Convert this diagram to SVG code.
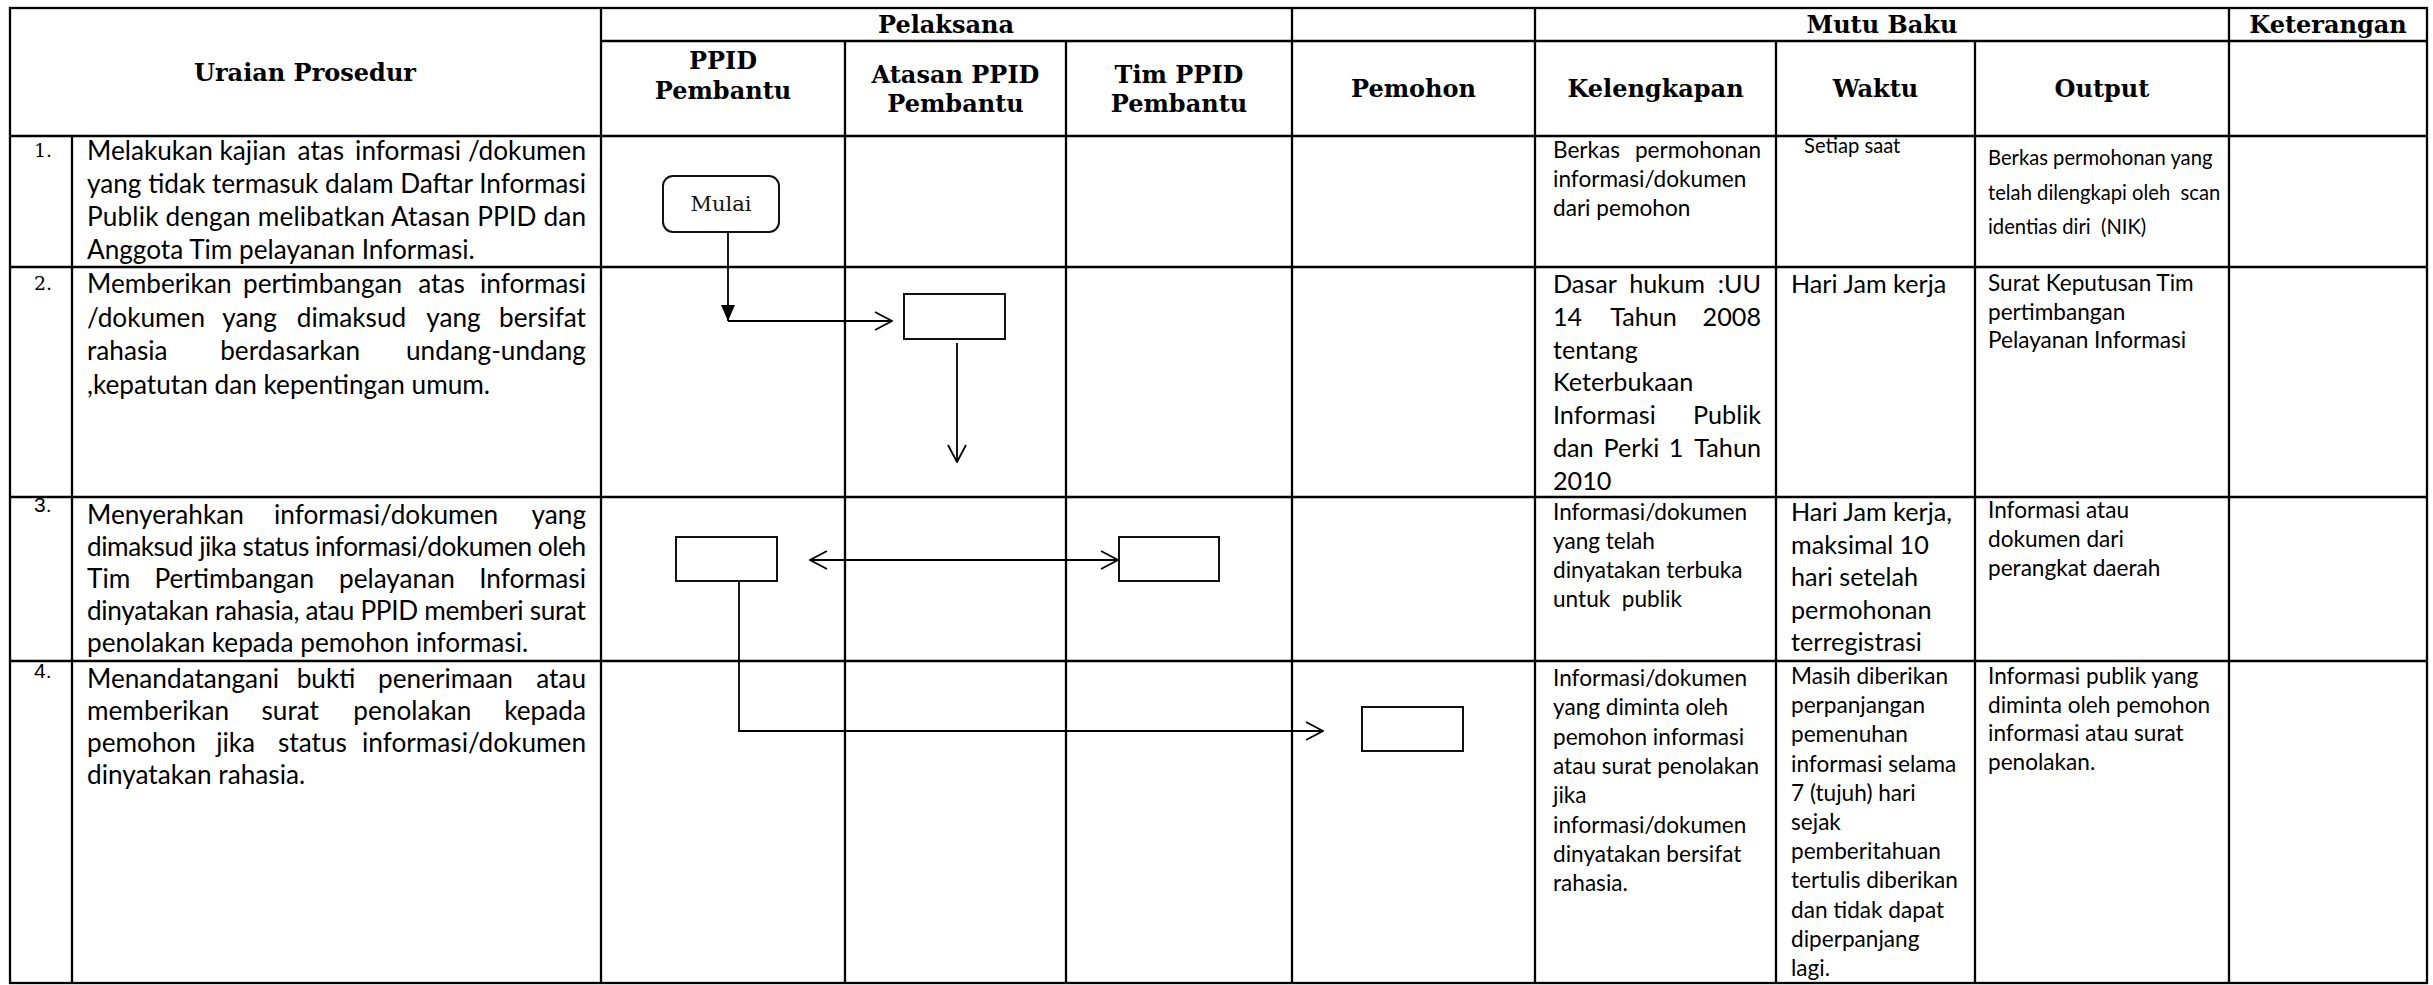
<svg xmlns="http://www.w3.org/2000/svg" width="2433" height="985" viewBox="0 0 2433 985">
<style>
.grid line, .grid rect {stroke:#000; stroke-width:2.3; fill:none}
.hd {font-family:"DejaVu Serif", serif; font-weight:bold; font-size:24px; fill:#000; text-anchor:middle}
.u {font-family:Lato, "Open Sans", sans-serif; font-size:26.2px; fill:#000}
.k {font-family:Lato, "Open Sans", sans-serif; font-size:22.6px; fill:#000}
.kl {font-family:Lato, "Open Sans", sans-serif; font-size:25.2px; fill:#000}
.ks {font-family:Lato, "Open Sans", sans-serif; font-size:20.2px; fill:#000}
.ko {font-family:Lato, "Open Sans", sans-serif; font-size:22.6px; fill:#000}
.m {text-anchor:middle}
.e {text-anchor:end}
.num {font-family:"DejaVu Serif", serif; font-size:19px; fill:#000}
.nums {font-family:"Liberation Sans", Arial, sans-serif; font-size:21px; fill:#000}
.shape {fill:#fff; stroke:#111; stroke-width:2}
.conn {fill:none; stroke:#000; stroke-width:1.8}
.lbl {font-family:"DejaVu Serif", serif; font-size:21px; fill:#111; text-anchor:middle}
</style>
<defs>
<marker id="open" viewBox="0 0 20 20" refX="19" refY="10" markerWidth="20" markerHeight="20" markerUnits="userSpaceOnUse" orient="auto-start-reverse">
<path d="M2,1 L19,10 L2,19" fill="none" stroke="#000" stroke-width="1.8"/>
</marker>
<marker id="filled" viewBox="0 0 16 16" refX="16" refY="8" markerWidth="16" markerHeight="16" markerUnits="userSpaceOnUse" orient="auto">
<path d="M0,1 L16,8 L0,15 Z" fill="#000"/>
</marker>
</defs>
<rect x="0" y="0" width="2433" height="985" fill="#fff"/>

<g id="table" class="grid">
<rect x="10" y="8" width="2417" height="975"/>
<line x1="601" y1="41" x2="2427" y2="41"/>
<line x1="10" y1="136" x2="2427" y2="136"/>
<line x1="10" y1="267" x2="2427" y2="267"/>
<line x1="10" y1="497" x2="2427" y2="497"/>
<line x1="10" y1="661" x2="2427" y2="661"/>
<line x1="72" y1="136" x2="72" y2="983"/>
<line x1="601" y1="8" x2="601" y2="983"/>
<line x1="845" y1="41" x2="845" y2="983"/>
<line x1="1066" y1="41" x2="1066" y2="983"/>
<line x1="1292" y1="8" x2="1292" y2="983"/>
<line x1="1535" y1="8" x2="1535" y2="983"/>
<line x1="1776" y1="41" x2="1776" y2="983"/>
<line x1="1975" y1="41" x2="1975" y2="983"/>
<line x1="2229" y1="8" x2="2229" y2="983"/>
</g>

<g id="header">
<text class="hd" x="305" y="81">Uraian Prosedur</text>
<text class="hd" x="946" y="33">Pelaksana</text>
<text class="hd" x="1882" y="33">Mutu Baku</text>
<text class="hd" x="2328" y="33">Keterangan</text>
<text class="hd" x="723" y="69">PPID</text>
<text class="hd" x="723" y="99">Pembantu</text>
<text class="hd" x="955.5" y="83">Atasan PPID</text>
<text class="hd" x="955.5" y="112">Pembantu</text>
<text class="hd" x="1179" y="83">Tim PPID</text>
<text class="hd" x="1179" y="112">Pembantu</text>
<text class="hd" x="1413.5" y="97">Pemohon</text>
<text class="hd" x="1655.5" y="97">Kelengkapan</text>
<text class="hd" x="1875.5" y="97">Waktu</text>
<text class="hd" x="2102" y="97">Output</text>
</g>

<g id="numbers">
<text class="num" x="34" y="157">1.</text>
<text class="num" x="34" y="290">2.</text>
<text class="nums" x="34" y="512">3.</text>
<text class="nums" x="34" y="678">4.</text>
</g>

<g id="uraian-1">
<text class="u" x="87" y="160">Melakukan</text>
<text class="u m" x="252.8" y="160">kajian</text>
<text class="u m" x="320.9" y="160">atas</text>
<text class="u m" x="408.1" y="160">informasi</text>
<text class="u e" x="586" y="160">/dokumen</text>
<text class="u" x="87" y="193" textLength="499" lengthAdjust="spacing">yang tidak termasuk dalam Daftar Informasi</text>
<text class="u" x="87" y="226" textLength="499" lengthAdjust="spacing">Publik dengan melibatkan Atasan PPID dan</text>
<text class="u" x="87" y="258.5">Anggota Tim pelayanan Informasi.</text>
</g>

<g id="uraian-2">
<text class="u" x="87" y="293">Memberikan</text>
<text class="u m" x="322.6" y="293">pertimbangan</text>
<text class="u m" x="441.5" y="293">atas</text>
<text class="u e" x="586" y="293">informasi</text>
<text class="u" x="87" y="326.5">/dokumen</text>
<text class="u m" x="249.6" y="326.5">yang</text>
<text class="u m" x="351.5" y="326.5">dimaksud</text>
<text class="u m" x="453.4" y="326.5">yang</text>
<text class="u e" x="586" y="326.5">bersifat</text>
<text class="u" x="87" y="360">rahasia</text>
<text class="u m" x="290.2" y="360">berdasarkan</text>
<text class="u e" x="586" y="360">undang-undang</text>
<text class="u" x="87" y="393.5">,kepatutan dan kepentingan umum.</text>
</g>

<g id="uraian-3">
<text class="u" x="87" y="524">Menyerahkan</text>
<text class="u m" x="386.1" y="524">informasi/dokumen</text>
<text class="u e" x="586" y="524">yang</text>
<text class="u" x="87" y="556" textLength="499" lengthAdjust="spacing">dimaksud jika status informasi/dokumen oleh</text>
<text class="u" x="87" y="588">Tim</text>
<text class="u m" x="234.2" y="588">Pertimbangan</text>
<text class="u m" x="396.9" y="588">pelayanan</text>
<text class="u e" x="586" y="588">Informasi</text>
<text class="u" x="87" y="620" textLength="499" lengthAdjust="spacing">dinyatakan rahasia, atau PPID memberi surat</text>
<text class="u" x="87" y="652">penolakan kepada pemohon informasi.</text>
</g>

<g id="uraian-4">
<text class="u" x="87" y="688">Menandatangani</text>
<text class="u m" x="326" y="688">bukti</text>
<text class="u m" x="445.5" y="688">penerimaan</text>
<text class="u e" x="586" y="688">atau</text>
<text class="u" x="87" y="720">memberikan</text>
<text class="u m" x="290.2" y="720">surat</text>
<text class="u m" x="412.4" y="720">penolakan</text>
<text class="u e" x="586" y="720">kepada</text>
<text class="u" x="87" y="752">pemohon</text>
<text class="u m" x="235.7" y="752">jika</text>
<text class="u m" x="312.4" y="752">status</text>
<text class="u e" x="586" y="752">informasi/dokumen</text>
<text class="u" x="87" y="784">dinyatakan rahasia.</text>
</g>

<g id="nodes">
<g id="mulai">
<rect class="shape" x="663" y="176" width="116" height="56" rx="10"/>
<text class="lbl" x="721" y="211">Mulai</text>
</g>
<g id="proses-atasan"><rect class="shape" x="904" y="294" width="101" height="45"/></g>
<g id="proses-ppid"><rect class="shape" x="676" y="537" width="101" height="44"/></g>
<g id="proses-tim"><rect class="shape" x="1119" y="537" width="100" height="44"/></g>
<g id="proses-pemohon"><rect class="shape" x="1362" y="707" width="101" height="44"/></g>
</g>

<g id="connectors">
<path class="conn" d="M728,232 V321" marker-end="url(#filled)"/>
<path class="conn" d="M728,321 H892" marker-end="url(#open)"/>
<path class="conn" d="M957,343 V462" marker-end="url(#open)"/>
<path class="conn" d="M810,560 H1118" marker-start="url(#open)" marker-end="url(#open)"/>
<path class="conn" d="M739,581 V731 H1323" marker-end="url(#open)"/>
</g>

<g id="kelengkapan">
<text class="k" x="1553" y="158">Berkas</text>
<text class="k e" x="1761" y="158">permohonan</text>
<text class="k" x="1553" y="187">informasi/dokumen</text>
<text class="k" x="1553" y="216">dari pemohon</text>

<text class="kl" x="1553" y="293">Dasar</text>
<text class="kl m" x="1667.1" y="293">hukum</text>
<text class="kl e" x="1761" y="293">:UU</text>
<text class="kl" x="1553" y="325.8">14</text>
<text class="kl m" x="1643.6" y="325.8">Tahun</text>
<text class="kl e" x="1761" y="325.8">2008</text>
<text class="kl" x="1553" y="358.6">tentang</text>
<text class="kl" x="1553" y="391.4">Keterbukaan</text>
<text class="kl" x="1553" y="424.2">Informasi</text>
<text class="kl e" x="1761" y="424.2">Publik</text>
<text class="kl" x="1553" y="457">dan</text>
<text class="kl m" x="1631.5" y="457">Perki</text>
<text class="kl m" x="1676.1" y="457">1</text>
<text class="kl e" x="1761" y="457">Tahun</text>
<text class="kl" x="1553" y="489.8">2010</text>

<text class="k" xml:space="preserve"><tspan x="1553" y="520">Informasi/dokumen</tspan><tspan x="1553" y="549">yang telah</tspan><tspan x="1553" y="578">dinyatakan terbuka</tspan><tspan x="1553" y="607">untuk  publik</tspan></text>

<text class="k"><tspan x="1553" y="686">Informasi/dokumen</tspan><tspan x="1553" y="715.3">yang diminta oleh</tspan><tspan x="1553" y="744.6">pemohon informasi</tspan><tspan x="1553" y="773.9">atau surat penolakan</tspan><tspan x="1553" y="803.2">jika</tspan><tspan x="1553" y="832.5">informasi/dokumen</tspan><tspan x="1553" y="861.8">dinyatakan bersifat</tspan><tspan x="1553" y="891.1">rahasia.</tspan></text>
</g>

<g id="waktu">
<text class="ks" x="1804" y="153">Setiap saat</text>
<text class="kl" x="1791" y="293">Hari Jam kerja</text>
<text class="kl"><tspan x="1791" y="521">Hari Jam kerja,</tspan><tspan x="1791" y="553.5">maksimal 10</tspan><tspan x="1791" y="586">hari setelah</tspan><tspan x="1791" y="618.5">permohonan</tspan><tspan x="1791" y="651">terregistrasi</tspan></text>
<text class="k"><tspan x="1791" y="684">Masih diberikan</tspan><tspan x="1791" y="713.2">perpanjangan</tspan><tspan x="1791" y="742.4">pemenuhan</tspan><tspan x="1791" y="771.6">informasi selama</tspan><tspan x="1791" y="800.8">7 (tujuh) hari</tspan><tspan x="1791" y="830">sejak</tspan><tspan x="1791" y="859.2">pemberitahuan</tspan><tspan x="1791" y="888.4">tertulis diberikan</tspan><tspan x="1791" y="917.6">dan tidak dapat</tspan><tspan x="1791" y="946.8">diperpanjang</tspan><tspan x="1791" y="976">lagi.</tspan></text>
</g>

<g id="output">
<text class="ks" xml:space="preserve"><tspan x="1988" y="165">Berkas permohonan yang</tspan><tspan x="1988" y="200">telah dilengkapi oleh  scan</tspan><tspan x="1988" y="234">identias diri  (NIK)</tspan></text>
<text class="ko"><tspan x="1988" y="291">Surat Keputusan Tim</tspan><tspan x="1988" y="319.5">pertimbangan</tspan><tspan x="1988" y="348">Pelayanan Informasi</tspan></text>
<text class="k"><tspan x="1988" y="518">Informasi atau</tspan><tspan x="1988" y="547">dokumen dari</tspan><tspan x="1988" y="576">perangkat daerah</tspan></text>
<text class="k"><tspan x="1988" y="684">Informasi publik yang</tspan><tspan x="1988" y="712.5">diminta oleh pemohon</tspan><tspan x="1988" y="741">informasi atau surat</tspan><tspan x="1988" y="769.5">penolakan.</tspan></text>
</g>
</svg>
